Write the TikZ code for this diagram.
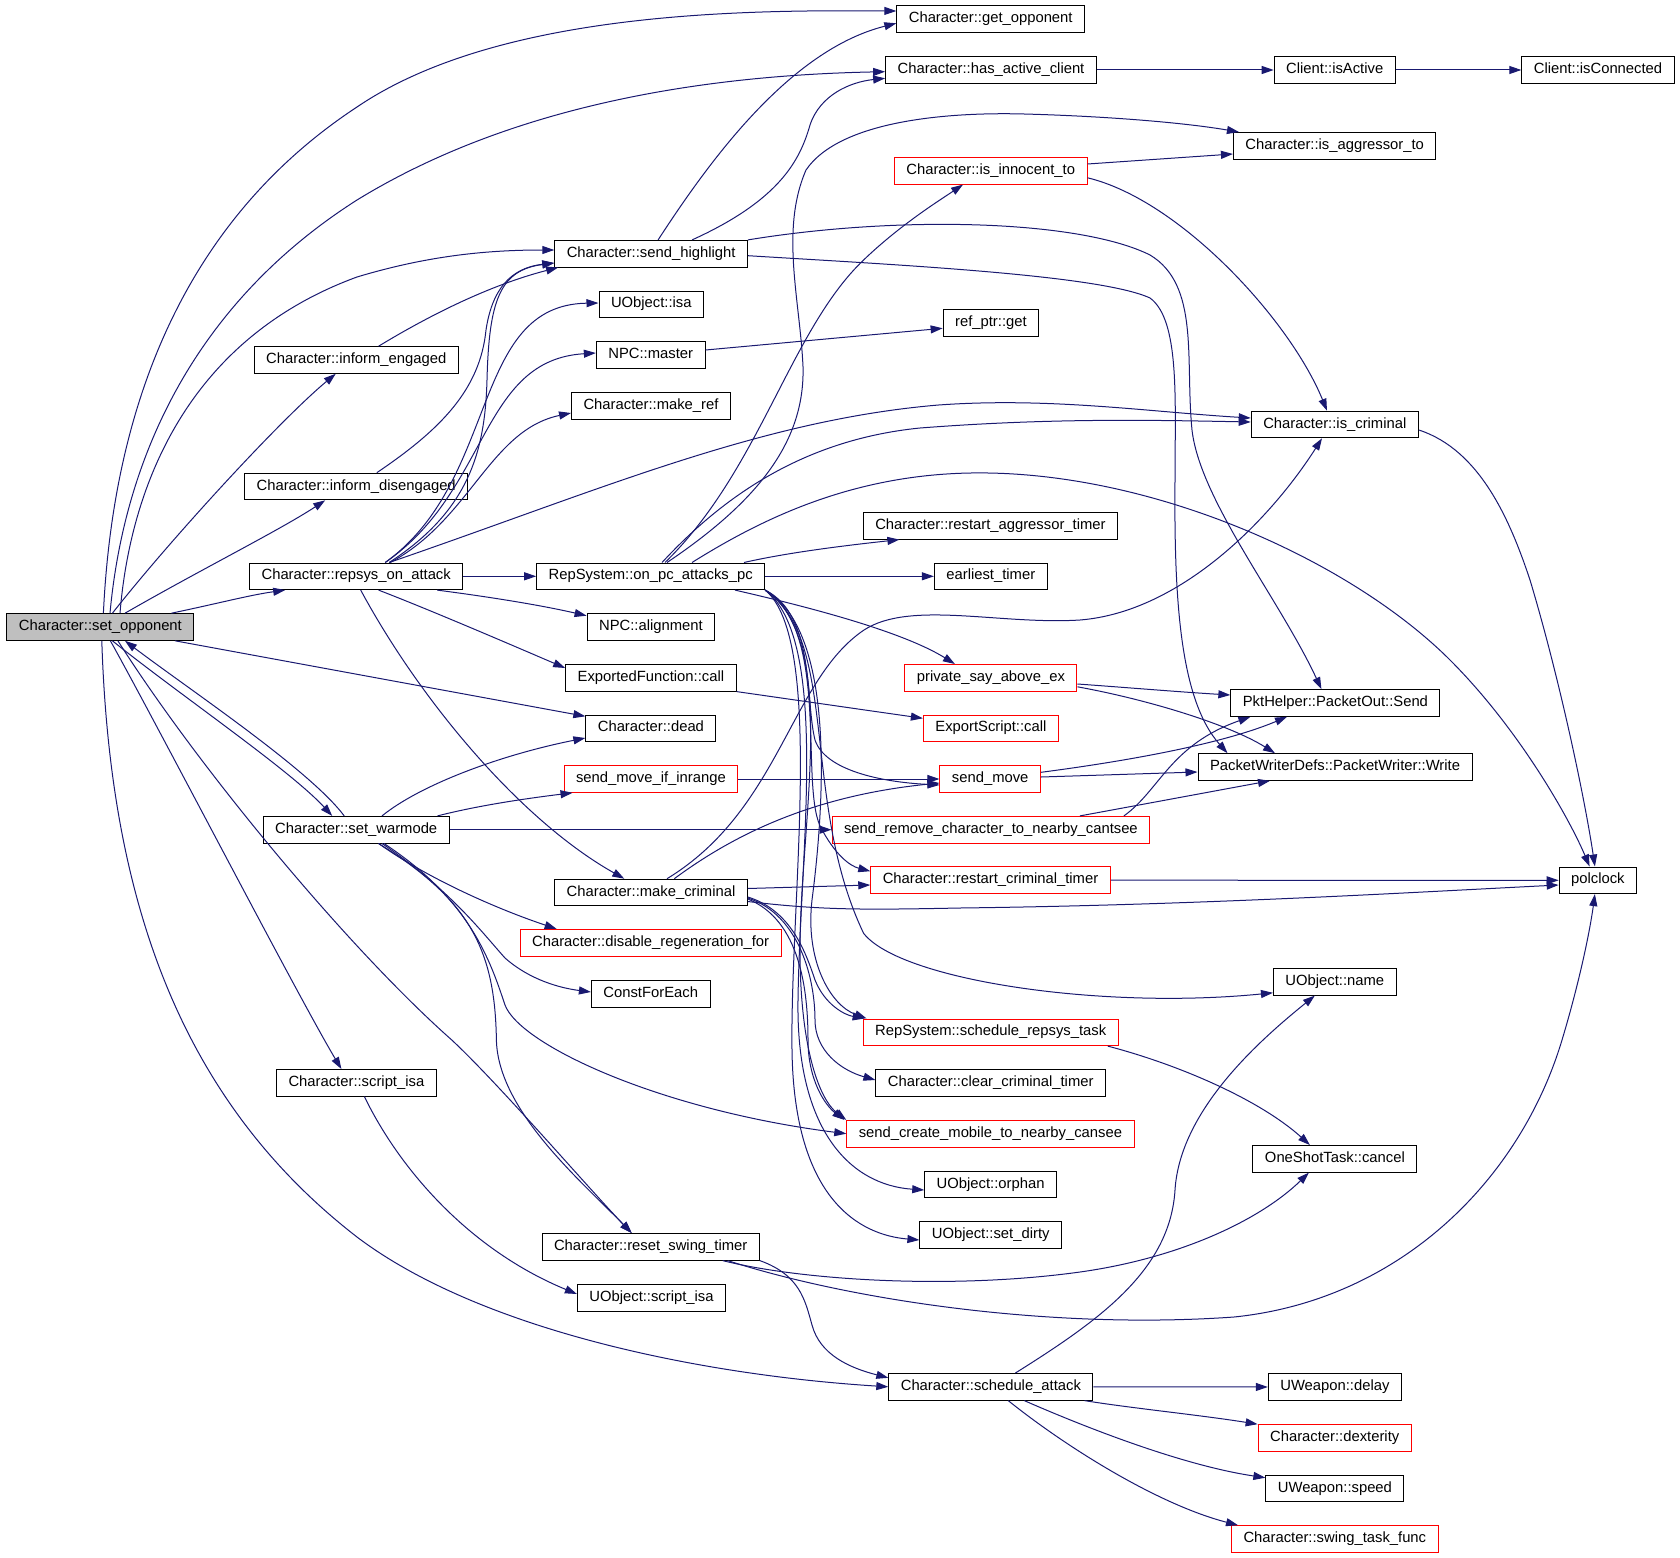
\documentclass[tikz,border=0pt]{standalone}
\usepackage{fontspec}
\setmainfont{Liberation Sans}
\usetikzlibrary{arrows.meta}
\definecolor{edgeblue}{HTML}{191970}
\definecolor{rootgray}{HTML}{BFBFBF}
\definecolor{trunc}{HTML}{FF0000}
\tikzset{
  fn/.style={shape=rectangle,draw=black,line width=1pt,inner xsep=12pt,
    inner ysep=0pt,minimum height=26.6pt,text height=10.5pt,text depth=3.5pt,
    font=\fontsize{14.8}{17}\selectfont},
  fnred/.style={fn,draw=trunc},
  fnroot/.style={fn,fill=rootgray},
  calls/.style={draw=edgeblue,line width=1pt,-{Triangle[length=12pt,width=8pt]}}
}
\begin{document}
\begin{tikzpicture}[x=1pt,y=-1pt]
    \useasboundingbox (0,0) rectangle (1680,1557);
    \node (sop) [fnroot] at (100.4,627) {Character::set\_opponent};
    \node (gopp) [fn] at (990.7,19) {Character::get\_opponent};
    \node (hac) [fn] at (991,70) {Character::has\_active\_client};
    \node (isact) [fn] at (1334.7,70) {Client::isActive};
    \node (iscon) [fn] at (1598,70) {Client::isConnected};
    \node (aggr) [fn] at (1334.7,145.8) {Character::is\_aggressor\_to};
    \node (innoc) [fnred] at (990.7,170.8) {Character::is\_innocent\_to};
    \node (shl) [fn] at (651.1,253.7) {Character::send\_highlight};
    \node (ieng) [fn] at (356.2,360) {Character::inform\_engaged};
    \node (idis) [fn] at (356.2,486.5) {Character::inform\_disengaged};
    \node (uisa) [fn] at (651.3,304.3) {UObject::isa};
    \node (rget) [fn] at (990.9,323) {ref\_ptr::get};
    \node (master) [fn] at (650.7,354.8) {NPC::master};
    \node (mkref) [fn] at (651,406) {Character::make\_ref};
    \node (iscrim) [fn] at (1334.8,424.5) {Character::is\_criminal};
    \node (raggr) [fn] at (990.4,525.8) {Character::restart\_aggressor\_timer};
    \node (rsys) [fn] at (356.2,576.3) {Character::repsys\_on\_attack};
    \node (pcpc) [fn] at (650.7,576.3) {RepSystem::on\_pc\_attacks\_pc};
    \node (etimer) [fn] at (990.8,576.3) {earliest\_timer};
    \node (npcalign) [fn] at (650.9,627) {NPC::alignment};
    \node (psay) [fnred] at (990.9,677.8) {private\_say\_above\_ex};
    \node (efcall) [fn] at (650.9,677.8) {ExportedFunction::call};
    \node (pktsend) [fn] at (1335.4,703) {PktHelper::PacketOut::Send};
    \node (dead) [fn] at (650.9,728.3) {Character::dead};
    \node (escall) [fnred] at (990.9,728.3) {ExportScript::call};
    \node (pwrite) [fn] at (1335,767) {PacketWriterDefs::PacketWriter::Write};
    \node (smir) [fnred] at (650.9,779) {send\_move\_if\_inrange};
    \node (smove) [fnred] at (990.2,779) {send\_move};
    \node (swarm) [fn] at (356.2,829.7) {Character::set\_warmode};
    \node (srem) [fnred] at (990.9,829.7) {send\_remove\_character\_to\_nearby\_cantsee};
    \node (polclk) [fn] at (1597.9,880.3) {polclock};
    \node (mkcrim) [fn] at (651,892.5) {Character::make\_criminal};
    \node (rcrim) [fnred] at (990.5,880.2) {Character::restart\_criminal\_timer};
    \node (noregen) [fnred] at (650.6,942.7) {Character::disable\_regeneration\_for};
    \node (cfe) [fn] at (650.7,994) {ConstForEach};
    \node (uname) [fn] at (1334.8,981.8) {UObject::name};
    \node (srtask) [fnred] at (990.7,1032.3) {RepSystem::schedule\_repsys\_task};
    \node (sisa) [fn] at (356.4,1082.8) {Character::script\_isa};
    \node (ccrim) [fn] at (990.7,1083) {Character::clear\_criminal\_timer};
    \node (scmob) [fnred] at (990.4,1133.7) {send\_create\_mobile\_to\_nearby\_cansee};
    \node (oscancel) [fn] at (1334.9,1158.8) {OneShotTask::cancel};
    \node (orphan) [fn] at (990.6,1184.5) {UObject::orphan};
    \node (dirty) [fn] at (990.7,1234.7) {UObject::set\_dirty};
    \node (rswing) [fn] at (650.7,1246.8) {Character::reset\_swing\_timer};
    \node (uscisa) [fn] at (651.5,1298) {UObject::script\_isa};
    \node (sattack) [fn] at (990.9,1386.8) {Character::schedule\_attack};
    \node (wdelay) [fn] at (1334.9,1387) {UWeapon::delay};
    \node (dex) [fnred] at (1334.7,1438) {Character::dexterity};
    \node (wspeed) [fn] at (1334.9,1488.5) {UWeapon::speed};
    \node (swingf) [fnred] at (1334.8,1539) {Character::swing\_task\_func};

    \draw[calls] ([xshift=3pt]sop.north) .. controls (112,430) and (170,230) .. (357,107)
      .. controls (500,10) and (750,10) .. ([yshift=8pt]gopp.west);
    \draw[calls] ([xshift=9.6pt]sop.north) .. controls (125,450) and (200,300) .. (357,200)
      .. controls (520,100) and (720,75) .. ([yshift=-1.7pt]hac.west);
    \draw[calls] ([xshift=19.6pt]sop.north) .. controls (130,490) and (185,340) .. (357,277)
      .. controls (430,255) and (490,250) .. ([yshift=3.7pt]shl.west);
    \draw[calls] ([xshift=12pt]sop.north) .. controls (170,540) and (280,420) .. ([xshift=-20.5pt]ieng.south);
    \draw[calls] ([xshift=24.6pt]sop.north) .. controls (200,570) and (280,530) .. ([xshift=-31pt]idis.south);
    \draw[calls] ([xshift=71pt]sop.north) .. controls (220,603) and (250,595) .. ([xshift=-71pt]rsys.south);
    \draw[calls] ([xshift=74.6pt]sop.south) -- ([yshift=12pt]dead.west);
    \draw[calls] ([xshift=12pt]sop.south) .. controls (180,695) and (290,770) .. ([xshift=-24pt]swarm.north);
    \draw[calls] ([xshift=-12pt]swarm.north) .. controls (310,770) and (190,690) .. ([xshift=24.6pt]sop.south);
    \draw[calls] ([xshift=10pt]sop.south) .. controls (160,730) and (300,1000) .. ([xshift=-15pt]sisa.north);
    \draw[calls] ([xshift=17.5pt]sop.south) .. controls (200,770) and (350,950) .. (451.8,1040)
      .. controls (500,1085) and (590,1190) .. ([xshift=-19pt]rswing.north);
    \draw[calls] ([xshift=1.4pt]sop.south) .. controls (110,900) and (180,1100) .. (357,1237)
      .. controls (480,1330) and (700,1375) .. (sattack.west);

    \draw[calls] (rsys) -- (pcpc);
    \draw[calls] ([xshift=33pt]rsys.north) .. controls (470,510) and (485,450) .. (487,380)
      .. controls (489,300) and (500,270) .. ([yshift=-9.3pt]shl.west);
    \draw[calls] ([xshift=20.6pt]idis.north) .. controls (440,430) and (480,390) .. (486,330)
      .. controls (492,290) and (510,268) .. ([yshift=-9.3pt]shl.west);
    \draw[calls] ([xshift=22.4pt]ieng.north) .. controls (430,315) and (490,285) .. ([xshift=-93pt]shl.south);
    \draw[calls] ([xshift=29pt]rsys.north) .. controls (500,480) and (470,305) .. ([yshift=1.3pt]uisa.west);
    \draw[calls] ([xshift=29pt]rsys.north) .. controls (490,490) and (480,360) .. ([yshift=1.8pt]master.west);
    \draw[calls] ([xshift=34pt]rsys.north) .. controls (470,520) and (490,430) .. ([yshift=-7pt]mkref.west);
    \draw[calls] ([xshift=33pt]rsys.north) .. controls (600,490) and (760,420) .. (938.6,405)
      .. controls (1050,397) and (1150,412) .. ([yshift=6.5pt]iscrim.west);
    \draw[calls] ([xshift=81pt]rsys.south) .. controls (490,597) and (540,605) .. ([yshift=11.3pt]npcalign.west);
    \draw[calls] ([xshift=22.4pt]rsys.south) .. controls (430,610) and (500,640) .. ([yshift=9.8pt]efcall.west);
    \draw[calls] ([xshift=4.5pt]rsys.south) .. controls (420,700) and (520,820) .. ([xshift=-26.7pt]mkcrim.north);

    \draw[calls] (pcpc) -- (etimer);
    \draw[calls] ([xshift=93.3pt]pcpc.north) .. controls (790,552) and (850,545) .. ([xshift=-91pt]raggr.south);
    \draw[calls] ([xshift=41.3pt]pcpc.north) .. controls (760,520) and (850,475) .. (970.7,473)
      .. controls (1150,470) and (1350,560) .. (1450,660)
      .. controls (1520,730) and (1570,820) .. ([xshift=-8.3pt]polclk.north);
    \draw[calls] ([xshift=14.3pt]pcpc.north) .. controls (760,470) and (790,330) .. (863.6,260)
      .. controls (900,225) and (940,200) .. ([xshift=-27.7pt]innoc.south);
    \draw[calls] ([xshift=16.3pt]pcpc.north) .. controls (760,500) and (805,440) .. (803,366.7)
      .. controls (800,300) and (780,230) .. (806,170)
      .. controls (840,120) and (950,112) .. (1024,114)
      .. controls (1100,116) and (1180,122) .. ([xshift=6pt]aggr.north west);
    \draw[calls] ([xshift=11.3pt]pcpc.north) .. controls (720,500) and (800,440) .. (920,428)
      .. controls (1050,418) and (1150,420) .. ([yshift=2.5pt]iscrim.west);
    \draw[calls] ([xshift=84.3pt]pcpc.south) .. controls (800,605) and (900,630) .. ([xshift=-36pt]psay.north);
    \draw[calls] (pcpc.south east) .. controls (815,615) and (805,700) .. (815,740)
      .. controls (825,770) and (880,782) .. ([yshift=-6pt]smove.west);
    \draw[calls] (pcpc.south east) .. controls (830,630) and (800,780) .. (820,826)
      .. controls (835,855) and (850,866) .. ([yshift=9pt]rcrim.west);
    \draw[calls] (pcpc.south east) .. controls (840,640) and (800,800) .. (863.6,933.3)
      .. controls (900,980) and (1100,1010) .. ([yshift=-11pt]uname.west);
    \draw[calls] (pcpc.south east) .. controls (835,630) and (825,800) .. (812,900)
      .. controls (805,960) and (830,1005) .. ([xshift=4pt]srtask.north west);
    \draw[calls] (pcpc.south east) .. controls (840,640) and (800,820) .. (800,950)
      .. controls (800,1050) and (820,1100) .. (scmob.north west);
    \draw[calls] (pcpc.south east) .. controls (830,640) and (800,850) .. (798,1000)
      .. controls (796,1130) and (850,1185) .. ([yshift=-5.5pt]orphan.west);
    \draw[calls] (pcpc.south east) .. controls (825,640) and (790,900) .. (792,1050)
      .. controls (794,1200) and (860,1235) .. ([yshift=-5.3pt]dirty.west);

    \draw[calls] ([xshift=23.3pt]mkcrim.north) .. controls (740,830) and (820,795) .. ([yshift=-4pt]smove.west);
    \draw[calls] ([xshift=16pt]mkcrim.north) .. controls (780,810) and (790,680) .. (864,630)
      .. controls (910,600) and (1000,625) .. (1080,620)
      .. controls (1180,612) and (1270,520) .. ([xshift=-12.8pt]iscrim.south);
    \draw[calls] ([yshift=4pt]mkcrim.east) -- ([yshift=-4.8pt]rcrim.west);
    \draw[calls] ([yshift=-9pt]mkcrim.east) .. controls (820,910) and (860,910) .. (960,908)
      .. controls (1200,905) and (1400,893) .. ([yshift=-4.7pt]polclk.west);
    \draw[calls] ([yshift=-4.5pt]mkcrim.east) .. controls (790,910) and (805,950) .. (815,980)
      .. controls (825,1005) and (845,1015) .. ([xshift=2pt]srtask.north west);
    \draw[calls] ([yshift=-5.5pt]mkcrim.east) .. controls (800,915) and (815,980) .. (815,1020)
      .. controls (815,1050) and (840,1070) .. ([yshift=3pt]ccrim.west);
    \draw[calls] ([yshift=-6.5pt]mkcrim.east) .. controls (800,920) and (808,990) .. (808,1040)
      .. controls (808,1080) and (825,1105) .. ([xshift=-2pt]scmob.north west);

    \draw[calls] (smir) -- (smove);
    \draw[calls] (rcrim) -- (polclk);
    \draw[calls] ([yshift=-5.5pt]iscrim.east) .. controls (1480,450) and (1510,520) .. (1530,580)
      .. controls (1560,680) and (1585,800) .. ([xshift=-3pt]polclk.north);

    \draw[calls] ([xshift=77pt]rswing.south) .. controls (850,1300) and (1050,1330) .. (1234,1317)
      .. controls (1400,1300) and (1520,1180) .. (1562,1040)
      .. controls (1580,980) and (1590,930) .. ([xshift=-3pt]polclk.south);
    \draw[calls] ([xshift=72pt]rswing.south) .. controls (800,1280) and (950,1290) .. (1080,1272)
      .. controls (1180,1258) and (1260,1220) .. ([xshift=-26pt]oscancel.south);
    \draw[calls] (rswing.south east) .. controls (800,1275) and (805,1300) .. (812,1325)
      .. controls (820,1355) and (850,1368) .. ([yshift=9pt]sattack.west);

    \draw[calls] (sattack) -- (wdelay);
    \draw[calls] ([xshift=-9pt]sattack.south east) .. controls (1130,1408) and (1200,1415) .. (dex.north west);
    \draw[calls] ([xshift=33.4pt]sattack.south) .. controls (1080,1425) and (1180,1465) .. ([yshift=-3pt]wspeed.north west);
    \draw[calls] ([xshift=17.3pt]sattack.south) .. controls (1070,1450) and (1160,1505) .. ([xshift=7pt]swingf.north west);
    \draw[calls] ([xshift=24.5pt]sattack.north) .. controls (1100,1320) and (1170,1270) .. (1175,1190)
      .. controls (1180,1110) and (1260,1040) .. ([xshift=-20pt]uname.south);
    \draw[calls] ([xshift=-11pt]srtask.south east) .. controls (1180,1065) and (1260,1100) .. ([xshift=-25pt]oscancel.north);

    \draw[calls] ([xshift=22.4pt]swarm.south) .. controls (430,880) and (500,910) .. ([xshift=37pt]noregen.north west);
    \draw[calls] ([xshift=25.8pt]swarm.south) .. controls (450,890) and (480,930) .. (505,958)
      .. controls (530,980) and (560,988) .. ([yshift=2pt]cfe.west);
    \draw[calls] ([xshift=27.8pt]swarm.south) .. controls (470,900) and (490,960) .. (505,1005)
      .. controls (520,1045) and (660,1110) .. (scmob.west);
    \draw[calls] ([xshift=22.4pt]swarm.south) .. controls (470,900) and (495,950) .. (496.4,1040)
      .. controls (498,1110) and (580,1180) .. ([xshift=-19pt]rswing.north);
    \draw[calls] ([xshift=25.8pt]swarm.north) .. controls (420,785) and (500,755) .. ([yshift=-9.7pt]dead.west);
    \draw[calls] ([xshift=81.3pt]swarm.north) .. controls (480,805) and (530,798) .. ([xshift=9pt]smir.south west);
    \draw[calls] (swarm) -- (srem);

    \draw[calls] ([xshift=7pt]shl.north) .. controls (710,160) and (790,50) .. ([yshift=-4.3pt]gopp.west);
    \draw[calls] ([xshift=41pt]shl.north) .. controls (780,200) and (800,160) .. (810,125)
      .. controls (820,95) and (850,82) .. ([yshift=-8.3pt]hac.west);
    \draw[calls] (shl.north east) .. controls (900,215) and (1080,220) .. (1150,255)
      .. controls (1200,285) and (1185,360) .. (1192,430)
      .. controls (1200,500) and (1280,600) .. ([xshift=-14pt]pktsend.north);
    \draw[calls] ([yshift=-2pt]shl.east) .. controls (900,265) and (1100,275) .. (1150,298)
      .. controls (1180,320) and (1175,400) .. (1175,480)
      .. controls (1174,600) and (1180,700) .. ([xshift=30pt]pwrite.north west);

    \draw[calls] ([yshift=6.8pt]innoc.east) -- ([yshift=-8.2pt]aggr.west);
    \draw[calls] ([yshift=-7pt]innoc.east) .. controls (1180,200) and (1290,320) .. ([xshift=-7.8pt]iscrim.north);
    \draw[calls] (hac) -- (isact);
    \draw[calls] (isact) -- (iscon);
    \draw[calls] ([yshift=4.8pt]master.east) -- ([yshift=-5.3pt]rget.west);
    \draw[calls] (efcall.south east) -- ([yshift=10pt]escall.west);
    \draw[calls] ([yshift=-6.2pt]psay.east) .. controls (1120,687) and (1180,692) .. ([yshift=8pt]pktsend.west);
    \draw[calls] ([yshift=-9pt]psay.east) .. controls (1150,700) and (1230,725) .. ([xshift=-60pt]pwrite.north);
    \draw[calls] ([yshift=6.7pt]smove.east) .. controls (1120,762) and (1220,745) .. ([xshift=-48.4pt]pktsend.south);
    \draw[calls] ([yshift=2pt]smove.east) -- ([yshift=-5pt]pwrite.west);
    \draw[calls] ([xshift=133pt]srem.north) .. controls (1160,790) and (1170,745) .. ([xshift=-85pt]pktsend.south);
    \draw[calls] ([xshift=89pt]srem.north) .. controls (1150,803) and (1220,790) .. ([xshift=-65pt]pwrite.south);
    \draw[calls] ([xshift=8pt]sisa.south) .. controls (400,1170) and (470,1250) .. ([yshift=4pt]uscisa.west);
\end{tikzpicture}
\end{document}
